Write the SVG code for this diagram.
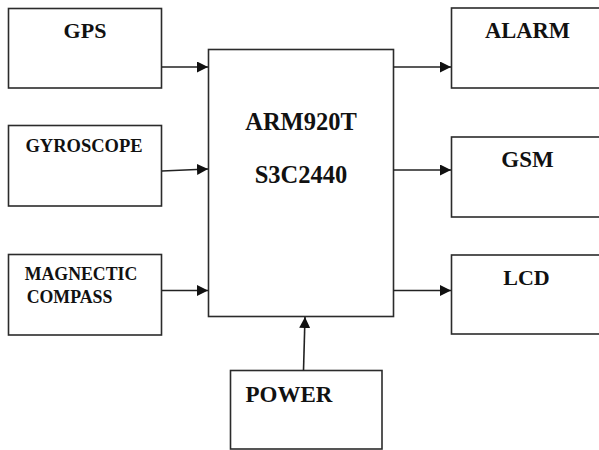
<svg xmlns="http://www.w3.org/2000/svg" width="599" height="450" viewBox="0 0 599 450">
<style>
.box{fill:#fff;stroke:#2b2b2b;stroke-width:1.6}
.lbl{font-family:"Liberation Serif","Times New Roman",serif;font-weight:bold;fill:#111;text-anchor:middle}
.conn{stroke:#222;stroke-width:1.6;fill:none;marker-end:url(#ah)}
</style>
<defs>
<marker id="ah" viewBox="0 0 10 10" refX="10" refY="5" markerWidth="11" markerHeight="11" markerUnits="userSpaceOnUse" orient="auto">
<path d="M0,0 L10,5 L0,10 z" fill="#111"/>
</marker>
</defs>
<rect width="599" height="450" fill="#fff"/>
<g id="gps"><rect class="box" x="8.5" y="8.5" width="153" height="79.5"/><text class="lbl" x="85" y="37.5" font-size="22">GPS</text></g>
<g id="gyroscope"><rect class="box" x="8.5" y="125.5" width="153" height="80.5"/><text class="lbl" x="84" y="151.5" font-size="18.5">GYROSCOPE</text></g>
<g id="compass"><rect class="box" x="8.5" y="254.5" width="153" height="80.5"/><text class="lbl" x="81" y="280" font-size="17.8">MAGNECTIC</text><text class="lbl" x="69.5" y="303" font-size="17.8">COMPASS</text></g>
<g id="arm"><rect class="box" x="208.5" y="49.5" width="185" height="267"/><text class="lbl" x="301" y="130" font-size="24.5">ARM920T</text><text class="lbl" x="301" y="183" font-size="24.5">S3C2440</text></g>
<g id="alarm"><rect class="box" x="451.5" y="8" width="160" height="80"/><text class="lbl" x="527.5" y="38" font-size="22.5">ALARM</text></g>
<g id="gsm"><rect class="box" x="451.5" y="137" width="160" height="80"/><text class="lbl" x="527.5" y="166.5" font-size="23">GSM</text></g>
<g id="lcd"><rect class="box" x="451.5" y="255" width="160" height="79"/><text class="lbl" x="526.5" y="285" font-size="22">LCD</text></g>
<g id="power"><rect class="box" x="230.5" y="370.5" width="151.5" height="78.5"/><text class="lbl" x="289" y="401.5" font-size="23">POWER</text></g>
<g id="connectors">
<line class="conn" x1="162" y1="67" x2="208" y2="67"/>
<line class="conn" x1="162" y1="171" x2="208" y2="169"/>
<line class="conn" x1="162" y1="290.5" x2="208" y2="290.5"/>
<line class="conn" x1="393.5" y1="67" x2="451" y2="67"/>
<line class="conn" x1="393.5" y1="170" x2="451" y2="170"/>
<line class="conn" x1="393.5" y1="290.5" x2="451" y2="290.5"/>
<line class="conn" x1="303.5" y1="370.5" x2="305" y2="317"/>
</g>
</svg>
